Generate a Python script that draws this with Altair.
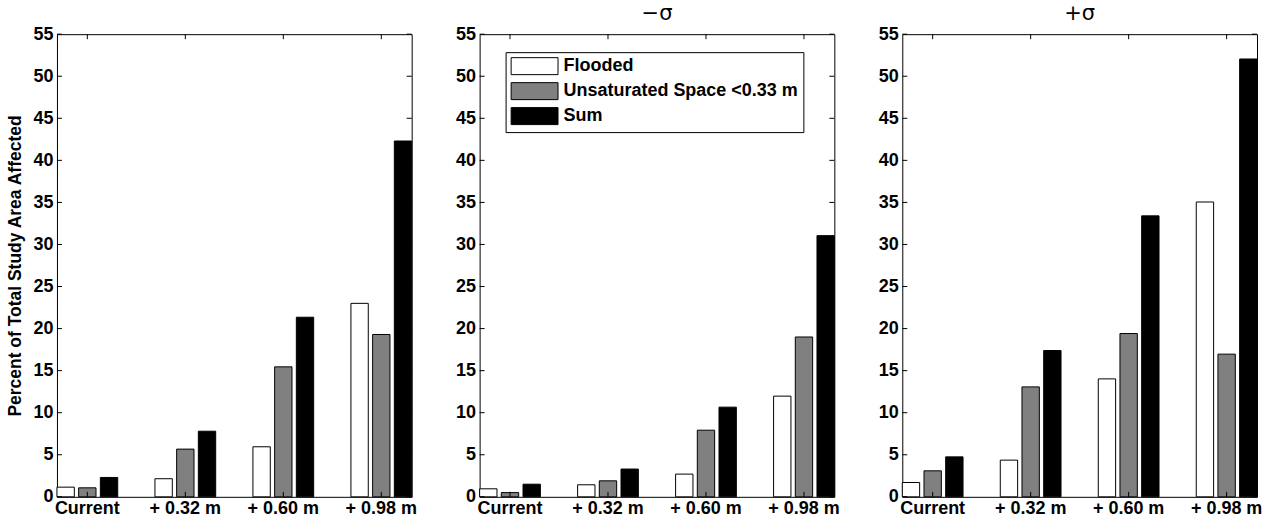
import altair as alt
import pandas as pd

categories = ["Current", "+ 0.32 m", "+ 0.60 m", "+ 0.98 m"]
series = ["Flooded", "Unsaturated Space <0.33 m", "Sum"]
panel_titles = [" ", "\u2212\u03c3", "+\u03c3"]

base_flooded = [1.15, 2.15, 5.95, 23.0]
base_unsat = [1.07, 5.67, 15.45, 19.3]
base_sum = [2.3, 7.8, 21.35, 42.3]

minus_flooded = [0.95, 1.43, 2.7, 11.97]
minus_unsat = [0.5, 1.9, 7.92, 19.0]
minus_sum = [1.5, 3.3, 10.66, 31.05]

plus_flooded = [1.7, 4.36, 14.02, 35.05]
plus_unsat = [3.09, 13.07, 19.41, 16.96]
plus_sum = [4.75, 17.39, 33.4, 52.05]

y_ticks = list(range(0, 56, 5))
fills = ["#ffffff", "#808080", "#000000"]

W, H = 355, 463
FONT = "Liberation Sans"
TL = 5  # inner tick length


def panel(flooded, unsat, total, title, show_ytitle, show_legend):
    rows = []
    for vals, s in zip([flooded, unsat, total], series):
        for c, v in zip(categories, vals):
            rows.append({"cat": c, "series": s, "value": v})
    df = pd.DataFrame(rows)

    xscale = alt.Scale(domain=categories, paddingInner=0.38, paddingOuter=0)
    yscale = alt.Scale(domain=[0, 55], nice=False)

    if show_legend:
        legend = alt.Legend(
            title=None, orient="none", legendX=26, legendY=18,
            symbolType="M-2.76,-1H2.76V1H-2.76Z", symbolSize=289,
            symbolStrokeColor="black", symbolStrokeWidth=1, symbolOpacity=1,
            symbolOffset=15, labelOffset=20,
            labelFont=FONT, labelFontSize=18, labelFontWeight="bold",
            labelColor="black", labelLimit=400,
            strokeColor="black", fillColor="white", padding=5, rowPadding=3,
        )
    else:
        legend = None

    ytitle = "Percent of Total Study Area Affected" if show_ytitle else None
    if ytitle:
        yaxis = alt.Axis(values=y_ticks, title=ytitle, titlePadding=8, labelPadding=4)
    else:
        yaxis = alt.Axis(values=y_ticks, title=None, labelPadding=4)
    xaxis = alt.Axis(title=None, labelAngle=0, labelPadding=3)

    bars = alt.Chart(df).mark_bar(stroke="black", strokeWidth=1).encode(
        x=alt.X("cat:N", sort=categories, scale=xscale, axis=xaxis),
        xOffset=alt.XOffset("series:N", sort=series,
                            scale=alt.Scale(domain=series, paddingInner=0.2, paddingOuter=0)),
        y=alt.Y("value:Q", scale=yscale, axis=yaxis),
        fill=alt.Fill("series:N", sort=series,
                      scale=alt.Scale(domain=series, range=fills), legend=legend),
    )

    ydf = pd.DataFrame({"value": y_ticks})
    xdf = pd.DataFrame({"cat": categories})
    left_t = alt.Chart(ydf).mark_rule(color="black").encode(
        y=alt.Y("value:Q", scale=yscale, axis=yaxis), x=alt.value(0), x2=alt.value(TL))
    right_t = alt.Chart(ydf).mark_rule(color="black").encode(
        y=alt.Y("value:Q", scale=yscale, axis=yaxis), x=alt.value(W - TL), x2=alt.value(W))
    bot_t = alt.Chart(xdf).mark_rule(color="black").encode(
        x=alt.X("cat:N", sort=categories, scale=xscale, axis=xaxis, bandPosition=0.5),
        y=alt.value(H), y2=alt.value(H - TL))
    top_t = alt.Chart(xdf).mark_rule(color="black").encode(
        x=alt.X("cat:N", sort=categories, scale=xscale, axis=xaxis, bandPosition=0.5),
        y=alt.value(0), y2=alt.value(TL))

    return alt.layer(bars, left_t, right_t, bot_t, top_t).properties(
        width=W, height=H,
        title=alt.TitleParams(title, fontSize=21, font="DejaVu Sans", fontWeight="normal",
                              color="black", offset=1),
    )


p1 = panel(base_flooded, base_unsat, base_sum, panel_titles[0], True, False)
p2 = panel(minus_flooded, minus_unsat, minus_sum, panel_titles[1], False, True)
p3 = panel(plus_flooded, plus_unsat, plus_sum, panel_titles[2], False, False)

chart = alt.hconcat(p1, p2, p3, spacing=37).resolve_scale(fill="independent").properties(
    padding={"left": 6, "top": 2, "right": 5, "bottom": 5}
).configure_axis(
    labelFont=FONT, labelFontSize=18, labelFontWeight="bold", labelColor="black",
    titleFont=FONT, titleFontSize=17.5, titleFontWeight="bold", titleColor="black",
    grid=False, domain=False, ticks=False,
).configure_view(stroke="black", strokeWidth=1)

chart.save("out.html", embed_options={"renderer": "svg", "actions": False})
